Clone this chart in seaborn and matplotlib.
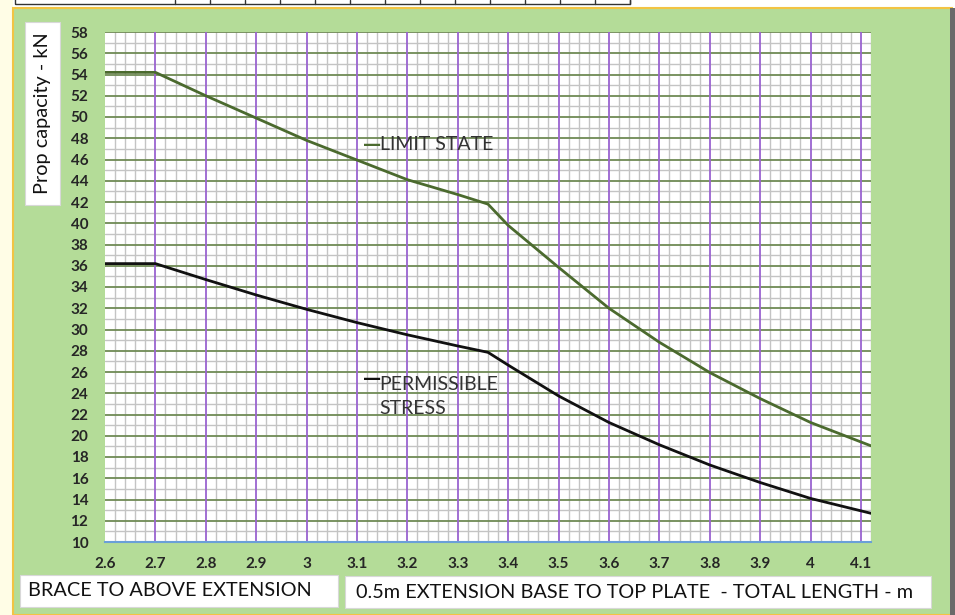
import numpy as np
import pandas as pd
import matplotlib
matplotlib.use("Agg")
import matplotlib.pyplot as plt
from matplotlib.patches import Rectangle
from matplotlib.ticker import MultipleLocator, FuncFormatter
import seaborn as sns

# values
length_m = [2.6, 2.7, 2.8, 2.9, 3.0, 3.1, 3.2, 3.3, 3.36, 3.4, 3.5, 3.6, 3.7, 3.8, 3.9, 4.0, 4.12]
limit_state = [54.2, 54.2, 52.0, 49.9, 47.8, 45.95, 44.1, 42.7, 41.8, 39.8, 35.85, 32.0, 28.8,
               25.95, 23.5, 21.25, 19.05]
permissible = [36.2, 36.2, 34.7, 33.25, 31.9, 30.65, 29.5, 28.45, 27.85, 26.65, 23.75, 21.25,
               19.15, 17.25, 15.6, 14.1, 12.7]
series_names = ["LIMIT STATE", "PERMISSIBLE STRESS"]
series_colors = ["#4b6a2e", "#111111"]

FONT = ["Lato", "DejaVu Sans"]
TEXT_COL = "#262626"

df = pd.DataFrame({
    "length": length_m * 2,
    "capacity": limit_state + permissible,
    "series": [series_names[0]] * len(length_m) + [series_names[1]] * len(length_m),
})

sns.set_theme(style="white")
plt.rcParams["font.family"] = FONT

fig = plt.figure(figsize=(9.55, 6.15), dpi=100)
fig.patch.set_facecolor("white")

W, H = 955.0, 615.0

def px_rect(x0, y0, x1, y1, **kw):
    # rectangle given in pixel coords from top-left
    fig.patches.append(Rectangle((x0 / W, 1 - y1 / H), (x1 - x0) / W, (y1 - y0) / H,
                                 transform=fig.transFigure, figure=fig, **kw))

# background panels
px_rect(0, 0, 13, 615, facecolor="#fffde6", edgecolor="none", zorder=0)
px_rect(13, 8, 952, 615, facecolor="#b4dc98", edgecolor="#f2c443", linewidth=1.5, zorder=0)
px_rect(950, 8, 955, 615, facecolor="#6a6a6a", edgecolor="none", zorder=0)
# table strip at the very top
px_rect(15, -2, 630, 4, facecolor="none", edgecolor="#333333", linewidth=1.0, zorder=0)
for xc in range(175, 631, 35):
    fig.add_artist(plt.Line2D([xc / W, xc / W], [1, 1 - 4 / H], transform=fig.transFigure,
                              color="#333333", linewidth=1.0))

ax = fig.add_axes([105 / W, 1 - 542 / H, (871 - 105) / W, (542 - 32) / H])
ax.set_zorder(3)
ax.set_facecolor("white")

sns.lineplot(data=df, x="length", y="capacity", hue="series", palette=series_colors,
             hue_order=series_names, linewidth=2.0, legend=False, ax=ax, zorder=5)

ax.set_xlim(2.6, 4.12)
ax.set_ylim(10, 58)
ax.xaxis.set_major_locator(MultipleLocator(0.1))
ax.xaxis.set_minor_locator(MultipleLocator(0.02))
ax.yaxis.set_major_locator(MultipleLocator(2))
ax.yaxis.set_minor_locator(MultipleLocator(1))
ax.xaxis.set_major_formatter(FuncFormatter(lambda v, p: f"{v:.1f}".rstrip("0").rstrip(".")))

ax.grid(which="minor", color="#c4c4c4", linewidth=1.0, zorder=0)
ax.grid(which="major", axis="y", color="#6f8a55", linewidth=1.3)
ax.grid(False, which="major", axis="x")
# purple major verticals, none on the left edge
ax.vlines(np.arange(2.7, 4.11, 0.1), 10, 58, color="#9a63d0", linewidth=1.3, zorder=1)
ax.set_axisbelow(True)

for side in ["top", "right", "left"]:
    ax.spines[side].set_visible(False)
ax.spines["bottom"].set_color("#6a9fd8")
ax.spines["bottom"].set_linewidth(1.5)

ax.tick_params(axis="x", which="both", direction="in", color="#6a9fd8", length=4, width=1,
               labelsize=11, labelcolor=TEXT_COL, pad=11)
ax.tick_params(axis="y", which="both", direction="out", color="#9a9a9a", length=4, width=1,
               labelsize=11, labelcolor=TEXT_COL, pad=8)
for lab in ax.get_xticklabels() + ax.get_yticklabels():
    lab.set_fontweight("bold")

ax.set_xlabel("")
ax.set_ylabel("")

# series labels placed like Excel data labels
ax.text(3.112, 47.4, "\u2014", color=series_colors[0], fontsize=13, va="center", ha="left",
        family="DejaVu Sans", fontweight="bold")
ax.text(3.145, 47.4, "LIMIT STATE", color="#333333", fontsize=14, va="center", ha="left")
ax.text(3.112, 25.35, "\u2014", color=series_colors[1], fontsize=13, va="center", ha="left",
        family="DejaVu Sans", fontweight="bold")
ax.text(3.145, 23.7, "PERMISSIBLE\nSTRESS", color="#333333", fontsize=14, va="center",
        ha="left", linespacing=1.45)

# axis title boxes
px_rect(25, 22, 60, 205, facecolor="white", edgecolor="#d8d8d8", linewidth=0.8, zorder=1)
fig.text(42.5 / W, 1 - 113 / H, "Prop capacity - kN", rotation=90, ha="center", va="center",
         fontsize=14.3, color="#111111", zorder=2)

px_rect(20, 575, 338, 607, facecolor="white", edgecolor="#d8d8d8", linewidth=0.8, zorder=1)
fig.text(28 / W, 1 - 591 / H, "BRACE TO ABOVE EXTENSION", ha="left", va="center",
         fontsize=14.3, color="#111111", zorder=2)

px_rect(345, 576, 931, 608, facecolor="white", edgecolor="#d8d8d8", linewidth=0.8, zorder=1)
fig.text(356 / W, 1 - 592 / H, "0.5m EXTENSION BASE TO TOP PLATE  - TOTAL LENGTH - m",
         ha="left", va="center", fontsize=14.3, color="#111111", zorder=2)

fig.savefig("out.png", dpi=100)
